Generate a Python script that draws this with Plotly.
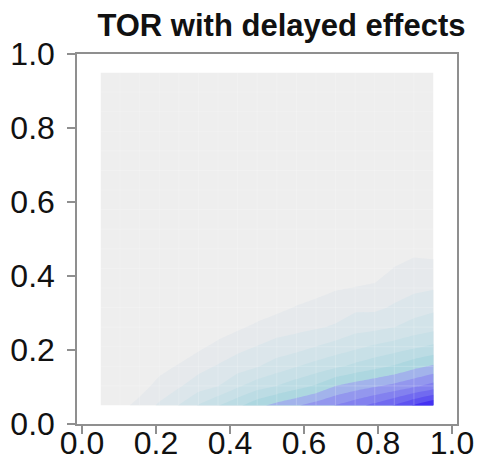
import plotly.graph_objects as go

# Grid of the simulation (18 x 18 points between 0.05 and 0.95)
x_grid = [0.05, 0.1029, 0.1559, 0.2088, 0.2618, 0.3147, 0.3676, 0.4206, 0.4735,
          0.5265, 0.5794, 0.6324, 0.6853, 0.7382, 0.7912, 0.8441, 0.8971, 0.95]
y_grid = [0.05, 0.1029, 0.1559, 0.2088, 0.2618, 0.3147, 0.3676, 0.4206, 0.4735,
          0.5265, 0.5794, 0.6324, 0.6853, 0.7382, 0.7912, 0.8441, 0.8971, 0.95]

# Surface values, one row per y_grid value
z_rows = [
    [0.3, 0.65, 1.37, 2.15, 3.04, 4.08, 4.96, 5.78, 6.7, 7.37, 7.89, 8.47, 9.06, 9.65, 10.3, 11.08, 12.12, 13.0],
    [0.15, 0.4, 0.55, 1.36, 1.88, 2.53, 2.97, 3.83, 4.55, 5.01, 5.56, 6.13, 7.01, 7.47, 7.87, 8.28, 8.79, 9.39],
    [0.05, 0.2, 0.2, 0.63, 1.10, 1.64, 2.09, 2.54, 2.93, 3.47, 3.95, 4.39, 4.81, 5.26, 5.68, 6.1, 6.7, 7.15],
    [0.0, 0.05, 0.05, 0.25, 0.33, 0.8, 1.28, 1.70, 2.04, 2.39, 2.61, 3.01, 3.4, 3.77, 4.16, 4.48, 4.82, 5.19],
    [0.0, 0.0, 0.0, 0.05, 0.1, 0.3, 0.47, 0.84, 1.22, 1.54, 1.71, 1.89, 2.12, 2.63, 2.74, 2.99, 3.42, 3.69],
    [0.0, 0.0, 0.0, 0.0, 0.0, 0.05, 0.15, 0.35, 0.40, 0.73, 1.06, 1.28, 1.49, 1.79, 1.78, 2.13, 2.49, 2.76],
    [0.0, 0.0, 0.0, 0.0, 0.0, 0.0, 0.0, 0.1, 0.12, 0.3, 0.42, 0.67, 0.92, 1.03, 1.15, 1.56, 1.8, 1.93],
    [0.0, 0.0, 0.0, 0.0, 0.0, 0.0, 0.0, 0.0, 0.0, 0.08, 0.12, 0.25, 0.45, 0.44, 0.55, 1.04, 1.29, 1.29],
    [0.0, 0.0, 0.0, 0.0, 0.0, 0.0, 0.0, 0.0, 0.0, 0.0, 0.0, 0.05, 0.15, 0.15, 0.2, 0.52, 0.77, 0.66],
    [0.0, 0.0, 0.0, 0.0, 0.0, 0.0, 0.0, 0.0, 0.0, 0.0, 0.0, 0.0, 0.03, 0.03, 0.05, 0.2, 0.35, 0.3],
    [0.0, 0.0, 0.0, 0.0, 0.0, 0.0, 0.0, 0.0, 0.0, 0.0, 0.0, 0.0, 0.0, 0.0, 0.0, 0.05, 0.1, 0.1],
    [0.0] * 18,
    [0.0] * 18,
    [0.0] * 18,
    [0.0] * 18,
    [0.0] * 18,
    [0.0] * 18,
    [0.0] * 18,
]

# One colour per filled band, lowest to highest
band_colors = ["#EEEEEE", "#E6E9EC", "#DCE6EB", "#D2E3E9", "#C8E0E7", "#BCDCE4",
               "#ADD7E0", "#A2B3EB", "#9397EE", "#8381EF", "#716AF0", "#5E52F1",
               "#4430F2"]
level_start, level_end, level_step = 1, 12, 1

tick_vals = [0.0, 0.2, 0.4, 0.6, 0.8, 1.0]
tick_text = ["0.0", "0.2", "0.4", "0.6", "0.8", "1.0"]

n = len(band_colors) - 1
colorscale = [[i / n, c] for i, c in enumerate(band_colors)]

fig = go.Figure(go.Contour(
    x=x_grid, y=y_grid, z=z_rows,
    colorscale=colorscale,
    contours=dict(start=level_start, end=level_end, size=level_step,
                  coloring="fill", showlines=False),
    line=dict(width=0, smoothing=0),
    showscale=False,
    hoverinfo="skip",
))

# faint seams along the grid cells
seam = dict(color="rgba(255,255,255,0.2)", width=1)
for gx in x_grid[1:-1]:
    fig.add_shape(type="line", xref="x", yref="y", layer="above",
                  x0=gx, x1=gx, y0=y_grid[0], y1=y_grid[-1], line=seam)
for gy in y_grid[1:-1]:
    fig.add_shape(type="line", xref="x", yref="y", layer="above",
                  x0=x_grid[0], x1=x_grid[-1], y0=gy, y1=gy, line=seam)

font_family = "Liberation Sans, Arial, sans-serif"
axis_common = dict(
    showgrid=False, zeroline=False, automargin=False,
    showline=True, mirror=True, linecolor="#8f8f8f", linewidth=1.5,
    ticks="outside", ticklen=8, tickwidth=1.5, tickcolor="#8f8f8f",
    tickvals=tick_vals, ticktext=tick_text,
    tickfont=dict(family=font_family, size=32, color="#111111"),
)

fig.update_layout(
    width=477, height=463,
    margin=dict(l=77, r=20, t=54, b=39),
    paper_bgcolor="white", plot_bgcolor="white",
    title=dict(text="<b>TOR with delayed effects</b>",
               font=dict(family=font_family, size=31, color="#111111"),
               x=0.59, xanchor="center", y=0.945, yanchor="middle"),
    xaxis=dict(range=[-0.0135, 1.0135], ticklabelstandoff=-18, **axis_common),
    yaxis=dict(range=[0, 1], ticklabelstandoff=6, **axis_common),
)

fig.write_html("out.html")
